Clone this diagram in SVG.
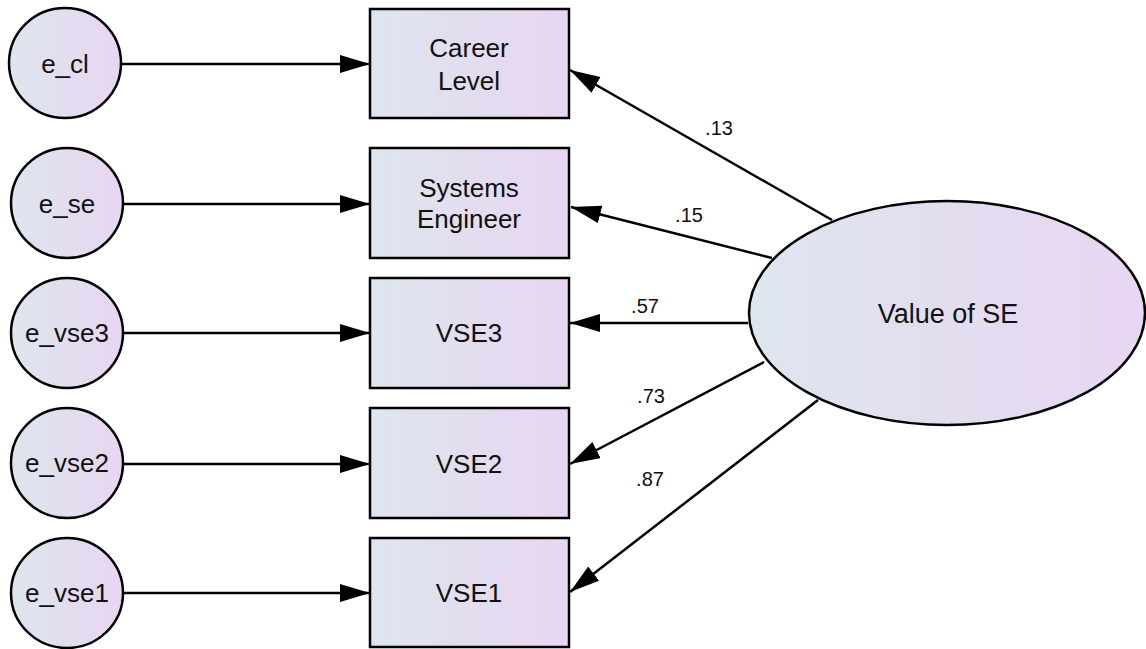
<svg xmlns="http://www.w3.org/2000/svg" width="1146" height="649" viewBox="0 0 1146 649">
<defs>
<linearGradient id="fill" x1="0" y1="0" x2="1" y2="0">
<stop offset="0" stop-color="#dde6ee"/>
<stop offset="0.5" stop-color="#e3ddef"/>
<stop offset="1" stop-color="#e8d6f2"/>
</linearGradient>
<marker id="arr" markerUnits="userSpaceOnUse" markerWidth="32" markerHeight="20" refX="30" refY="9" orient="auto">
<path d="M0,0 L30,9 L0,18 z" fill="#000"/>
</marker>
<style>
.shape{fill:url(#fill);stroke:#000;stroke-width:2.5}
.t{font-family:"Liberation Sans",Arial,sans-serif;font-size:26px;fill:#111;text-anchor:middle}
.l{font-family:"Liberation Sans",Arial,sans-serif;font-size:20px;fill:#111;text-anchor:middle}
.c{stroke:#000;stroke-width:2.5;fill:none;marker-end:url(#arr)}
</style>
</defs>
<rect width="1146" height="649" fill="#fff"/>
<g id="connectors">
<line class="c" x1="121" y1="64" x2="370" y2="64"/>
<line class="c" x1="123" y1="204" x2="370" y2="204"/>
<line class="c" x1="123" y1="333" x2="370" y2="333"/>
<line class="c" x1="123" y1="464" x2="370" y2="464"/>
<line class="c" x1="123" y1="593" x2="370" y2="593"/>
<line class="c" x1="832" y1="220" x2="570" y2="70"/>
<line class="c" x1="772" y1="258" x2="571" y2="207"/>
<line class="c" x1="748" y1="323" x2="570" y2="323"/>
<line class="c" x1="764" y1="362" x2="570" y2="464"/>
<line class="c" x1="818" y1="400" x2="570" y2="592"/>
<text class="l" x="719" y="135">.13</text>
<text class="l" x="689" y="222">.15</text>
<text class="l" x="645" y="313">.57</text>
<text class="l" x="651" y="403">.73</text>
<text class="l" x="650" y="486">.87</text>
</g>
<g id="e_cl"><ellipse class="shape" cx="65" cy="63" rx="56" ry="55"/><text class="t" x="65" y="73">e_cl</text></g>
<g id="e_se"><ellipse class="shape" cx="67" cy="203" rx="56" ry="55"/><text class="t" x="67" y="213">e_se</text></g>
<g id="e_vse3"><ellipse class="shape" cx="67" cy="333" rx="56" ry="55"/><text class="t" x="67" y="342">e_vse3</text></g>
<g id="e_vse2"><ellipse class="shape" cx="67" cy="463" rx="56" ry="55"/><text class="t" x="67" y="472">e_vse2</text></g>
<g id="e_vse1"><ellipse class="shape" cx="67" cy="593" rx="56" ry="55"/><text class="t" x="67" y="602">e_vse1</text></g>
<g id="career_level"><rect class="shape" x="370" y="9" width="199" height="109"/><text class="t" x="469" y="57">Career</text><text class="t" x="469" y="90">Level</text></g>
<g id="systems_engineer"><rect class="shape" x="370" y="148" width="199" height="110"/><text class="t" x="469" y="197">Systems</text><text class="t" x="469" y="228">Engineer</text></g>
<g id="vse3"><rect class="shape" x="370" y="278" width="199" height="110"/><text class="t" x="469" y="342">VSE3</text></g>
<g id="vse2"><rect class="shape" x="370" y="408" width="199" height="110"/><text class="t" x="469" y="473">VSE2</text></g>
<g id="vse1"><rect class="shape" x="370" y="538" width="199" height="109"/><text class="t" x="469" y="602">VSE1</text></g>
<g id="value_of_se"><ellipse class="shape" cx="947" cy="313" rx="198" ry="112"/><text class="t" x="948" y="323" style="font-size:27px">Value of SE</text></g>
</svg>
